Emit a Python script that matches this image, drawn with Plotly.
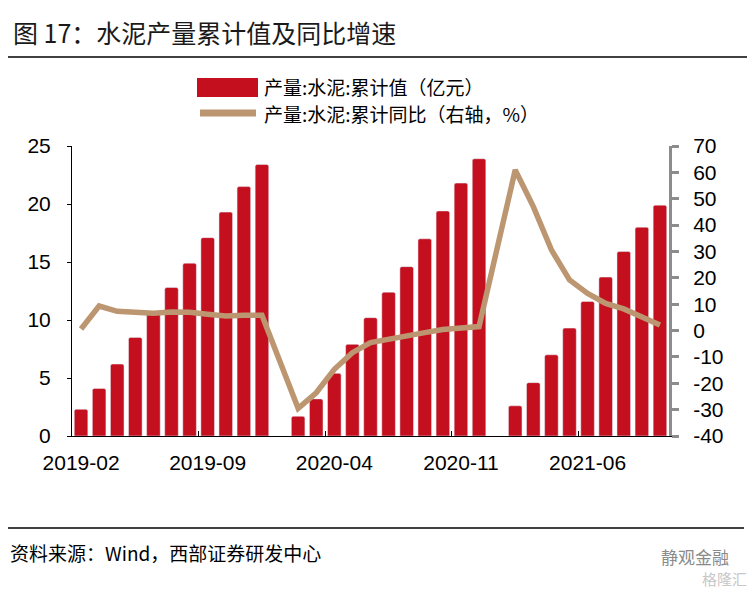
import plotly.graph_objects as go

categories = [
    "2019-02", "2019-03", "2019-04", "2019-05", "2019-06", "2019-07", "2019-08",
    "2019-09", "2019-10", "2019-11", "2019-12",
    "2020-01", "2020-02", "2020-03", "2020-04", "2020-05", "2020-06", "2020-07",
    "2020-08", "2020-09", "2020-10", "2020-11", "2020-12",
    "2021-01", "2021-02", "2021-03", "2021-04", "2021-05", "2021-06", "2021-07",
    "2021-08", "2021-09", "2021-10",
]
cum_value = [
    2.3, 4.1, 6.2, 8.5, 10.6, 12.8, 14.9, 17.1, 19.3, 21.5, 23.4,
    None, 1.7, 3.2, 5.4, 7.9, 10.2, 12.4, 14.6, 17.0, 19.4, 21.8, 23.9,
    None, 2.6, 4.6, 7.0, 9.3, 11.6, 13.7, 15.9, 18.0, 19.9,
]
cum_yoy = [
    0.6, 9.3, 7.3, 6.9, 6.6, 7.0, 6.9, 6.2, 5.5, 5.8, 5.8,
    None, -29.5, -23.6, -14.7, -8.4, -4.6, -3.2, -1.9, -0.8, 0.4, 1.1, 1.5,
    None, 60.9, 47.0, 30.6, 19.2, 14.1, 10.3, 8.2, 5.3, 2.1,
]
tick_labels = ["2019-02", "2019-09", "2020-04", "2020-11", "2021-06"]
right_ticks = [-40, -30, -20, -10, 0, 10, 20, 30, 40, 50, 60, 70]
bar_name = "产量:水泥:累计值（亿元）"
line_name = "产量:水泥:累计同比（右轴，%）"
title_text = "图 17：水泥产量累计值及同比增速"
source_text = "资料来源：Wind，西部证券研发中心"

BAR_COLOR = "#C30F1E"
LINE_COLOR = "#BC9670"
CJK = "Noto Sans CJK SC"
NUM = "Liberation Sans"

OFF = 8  # page body margin
W, H = 755 - OFF, 593 - OFF
L, R, T, B = 72 - OFF, 669 - OFF, 146 - OFF, 436 - OFF

def px(x):
    return (x - OFF - L) / (R - L)

def py(y):
    return (B - (y - OFF)) / (B - T)

idx = list(range(len(categories)))
tick_pos = [categories.index(c) for c in tick_labels]
boundary_pos = [p - 0.5 for p in tick_pos[1:]]

fig = go.Figure()
fig.add_trace(go.Bar(
    x=idx, y=cum_value, name=bar_name, marker=dict(color=BAR_COLOR, cornerradius=2),
    width=0.75, xaxis="x", yaxis="y", showlegend=False,
))
fig.add_trace(go.Scatter(
    x=idx, y=cum_yoy, name=line_name, mode="lines", connectgaps=True,
    line=dict(color=LINE_COLOR, width=5.5), xaxis="x2", yaxis="y2", showlegend=False,
))

xr = [-0.5, len(categories) - 0.5]
fig.update_layout(
    width=W, height=H,
    margin=dict(l=L, r=W - R, t=T, b=H - B, pad=0),
    plot_bgcolor="white", paper_bgcolor="white",
    xaxis=dict(
        range=xr, tickmode="array", tickvals=tick_pos, ticktext=tick_labels,
        ticks="", showline=True, linecolor="black", linewidth=1, showgrid=False,
        zeroline=False, tickfont=dict(family=NUM, size=21, color="black"),
        ticklabelstandoff=8,
    ),
    xaxis2=dict(
        range=xr, overlaying="x", anchor="y", tickmode="array", tickvals=boundary_pos,
        ticks="inside", ticklen=5, tickcolor="black", tickwidth=1,
        showticklabels=False, showline=False, showgrid=False, zeroline=False,
    ),
    yaxis=dict(
        range=[0, 25], dtick=5, tick0=0, showline=True, linecolor="black", linewidth=1,
        ticks="outside", ticklen=4, tickcolor="black", showgrid=False, zeroline=False,
        tickfont=dict(family=NUM, size=21, color="black"), ticklabelstandoff=12,
    ),
    yaxis2=dict(
        range=[-40, 70], tickmode="array", tickvals=right_ticks,
        ticktext=[str(v) for v in right_ticks], overlaying="y", side="right", anchor="x2",
        showline=True, linecolor="#8C8C8C", linewidth=3, ticks="outside", ticklen=7,
        tickwidth=3, tickcolor="#8C8C8C", showgrid=False, zeroline=False,
        tickfont=dict(family=NUM, size=21, color="black"), ticklabelstandoff=10,
    ),
)

shapes = [
    dict(type="line", xref="paper", yref="paper", x0=px(8), x1=px(755), y0=py(57), y1=py(57),
         line=dict(color="black", width=1.5)),
    dict(type="line", xref="paper", yref="paper", x0=px(8), x1=px(744), y0=py(528), y1=py(528),
         line=dict(color="black", width=1.5)),
    dict(type="rect", xref="paper", yref="paper", x0=px(197), x1=px(258), y0=py(97), y1=py(78),
         fillcolor=BAR_COLOR, line=dict(width=0)),
    dict(type="line", xref="paper", yref="paper", x0=px(200), x1=px(256), y0=py(113), y1=py(113),
         line=dict(color=LINE_COLOR, width=7)),
]
annotations = [
    dict(text=title_text, xref="paper", yref="paper", x=px(11), y=py(32), xanchor="left",
         yanchor="middle", showarrow=False, font=dict(family=CJK, size=25, color="#1a1a1a")),
    dict(text=bar_name, xref="paper", yref="paper", x=px(262), y=py(87), xanchor="left",
         yanchor="middle", showarrow=False, font=dict(family=CJK, size=19, color="black")),
    dict(text=line_name, xref="paper", yref="paper", x=px(262), y=py(113.5), xanchor="left",
         yanchor="middle", showarrow=False, font=dict(family=CJK, size=19, color="black")),
    dict(text=source_text, xref="paper", yref="paper", x=px(8), y=py(552), xanchor="left",
         yanchor="middle", showarrow=False, font=dict(family=CJK, size=19, color="black")),
    dict(text="静观金融", xref="paper", yref="paper", x=px(659), y=py(556), xanchor="left",
         yanchor="middle", showarrow=False, font=dict(family=CJK, size=17, color="#8a8a8a")),
    dict(text="格隆汇", xref="paper", yref="paper", x=px(700), y=py(578), xanchor="left",
         yanchor="middle", showarrow=False, font=dict(family=CJK, size=15, color="#c8c8c8")),
]
fig.update_layout(shapes=shapes, annotations=annotations)

fig.write_html("out.html")
